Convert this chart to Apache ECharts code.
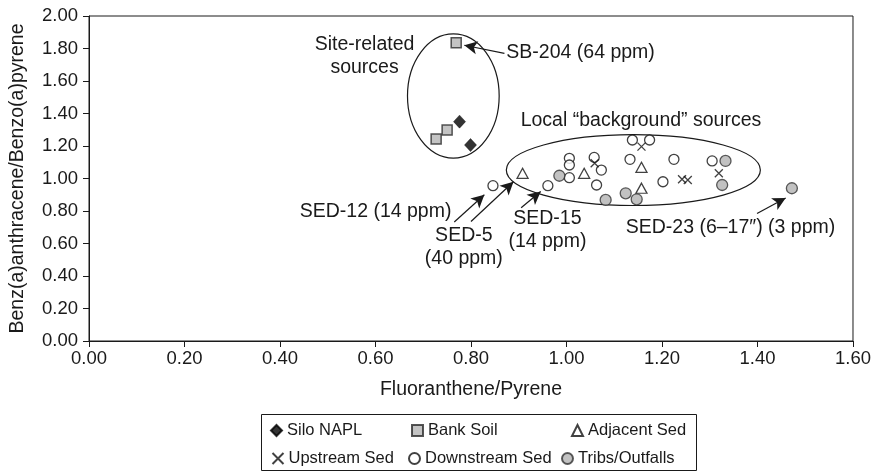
<!DOCTYPE html>
<html>
<head>
<meta charset="utf-8">
<script src="https://cdn.jsdelivr.net/npm/echarts@6/dist/echarts.min.js"></script>
<style>
  html, body { margin: 0; padding: 0; background: #fff; }
  #chart { width: 874px; height: 472px; }
</style>
</head>
<body>
<div id="chart"></div>
<script>
// Axis ranges and tick steps (ratio values)
const xRange = [0, 1.6];
const yRange = [0, 2.0];
const tickStep = 0.2;

// [Fluoranthene/Pyrene, Benz(a)anthracene/Benzo(a)pyrene]
const siloNapl = [[0.776, 1.350], [0.799, 1.206]];
const bankSoil = [[0.727, 1.243], [0.750, 1.298], [0.769, 1.836]];
const adjacentSed = [[0.908, 1.032], [1.037, 1.032], [1.157, 1.069], [1.157, 0.940]];
const upstreamSed = [[1.059, 1.094], [1.157, 1.196], [1.242, 0.995], [1.254, 0.991], [1.319, 1.032]];
const downstreamSed = [
  [0.846, 0.956], [0.961, 0.956], [1.006, 1.005], [1.006, 1.124], [1.006, 1.083],
  [1.058, 1.130], [1.073, 1.052], [1.063, 0.960], [1.138, 1.237], [1.174, 1.237],
  [1.133, 1.118], [1.225, 1.118], [1.202, 0.980], [1.305, 1.108]
];
const tribsOutfalls = [[0.985, 1.017], [1.082, 0.868], [1.124, 0.909], [1.147, 0.872], [1.333, 1.108], [1.326, 0.960], [1.472, 0.940]];

// Callout arrows: [from, to] in data units
const calloutArrows = [
  [[0.870, 1.770], [0.786, 1.820]],   // SB-204
  [[0.765, 0.732], [0.828, 0.900]],   // SED-12
  [[0.800, 0.735], [0.889, 0.980]],   // SED-5
  [[0.905, 0.820], [0.946, 0.920]],   // SED-15
  [[1.399, 0.785], [1.459, 0.880]]    // SED-23
];

const FONT = '"Liberation Sans", Arial, Helvetica, sans-serif';
const INK = '#1a1a1a';

const chart = echarts.init(document.getElementById('chart'), null, { renderer: 'canvas' });

// Legend entries laid out in two rows inside one frame
const legendItems = [
  { name: 'Silo NAPL', left: 270, top: 422 },
  { name: 'Bank Soil', left: 411, top: 422 },
  { name: 'Adjacent Sed', left: 571, top: 422 },
  { name: 'Upstream Sed', left: 270, top: 450 },
  { name: 'Downstream Sed', left: 408, top: 450 },
  { name: 'Tribs/Outfalls', left: 561, top: 450 }
];

const option = {
  backgroundColor: '#fff',
  animation: false,
  textStyle: { fontFamily: FONT },
  grid: {
    left: 86, right: 21, top: 16, bottom: 131,
    show: true, borderColor: INK, borderWidth: 1, backgroundColor: 'transparent'
  },
  xAxis: {
    type: 'value', min: xRange[0], max: xRange[1], interval: tickStep,
    name: 'Fluoranthene/Pyrene', nameLocation: 'middle', nameGap: 39,
    nameTextStyle: { fontSize: 19.5, color: INK, fontFamily: FONT },
    axisLine: { show: true, lineStyle: { color: INK, width: 1 } },
    axisTick: { show: true, inside: false, length: 6, lineStyle: { color: INK } },
    axisLabel: { fontSize: 18.5, color: INK, margin: 8, fontFamily: FONT, formatter: v => v.toFixed(2) },
    splitLine: { show: false }
  },
  yAxis: {
    type: 'value', min: yRange[0], max: yRange[1], interval: tickStep,
    name: 'Benz(a)anthracene/Benzo(a)pyrene', nameLocation: 'middle', nameGap: 61,
    nameTextStyle: { fontSize: 19.5, color: INK, fontFamily: FONT },
    axisLine: { show: true, lineStyle: { color: INK, width: 1 } },
    axisTick: { show: true, inside: false, length: 6, lineStyle: { color: INK } },
    axisLabel: { fontSize: 18.5, color: INK, margin: 11, fontFamily: FONT, formatter: v => v.toFixed(2) },
    splitLine: { show: false }
  },
  legend: legendItems.map(it => ({
    data: [it.name], left: it.left, top: it.top, padding: 0,
    itemWidth: 11, itemHeight: 11, itemGap: 0, selectedMode: false,
    textStyle: { fontSize: 16.5, color: INK, fontFamily: FONT }
  })),
  series: [
    {
      name: 'Silo NAPL', type: 'scatter', data: siloNapl, symbol: 'diamond', symbolSize: [12, 13],
      itemStyle: { color: '#000', borderColor: '#000', borderWidth: 0.5 }, z: 5
    },
    {
      name: 'Bank Soil', type: 'scatter', data: bankSoil, symbol: 'rect', symbolSize: 10,
      itemStyle: { color: '#b5b5b5', borderColor: '#2a2a2a', borderWidth: 1.5 }, z: 5
    },
    {
      name: 'Adjacent Sed', type: 'scatter', data: adjacentSed, symbol: 'triangle', symbolSize: [11, 10],
      itemStyle: { color: '#fff', borderColor: '#111', borderWidth: 1.3 }, z: 5
    },
    {
      name: 'Upstream Sed', type: 'scatter', data: upstreamSed,
      symbol: 'path://M0,0L10,10M10,0L0,10', symbolSize: 8,
      itemStyle: { color: 'none', borderColor: '#111', borderWidth: 1.3 }, z: 5
    },
    {
      name: 'Downstream Sed', type: 'scatter', data: downstreamSed, symbol: 'circle', symbolSize: 10,
      itemStyle: { color: '#fff', borderColor: '#111', borderWidth: 1.3 }, z: 4
    },
    {
      name: 'Tribs/Outfalls', type: 'scatter', data: tribsOutfalls, symbol: 'circle', symbolSize: 11,
      itemStyle: { color: '#b3b3b3', borderColor: '#333', borderWidth: 1.3 }, z: 4
    },
    {
      name: 'callouts', type: 'scatter', data: [], silent: true,
      markLine: {
        silent: true, animation: false,
        symbol: ['none', 'arrow'], symbolSize: [10, 13],
        lineStyle: { color: INK, width: 1.2, type: 'solid' },
        itemStyle: { color: INK },
        label: { show: false },
        emphasis: { disabled: true },
        data: calloutArrows.map(a => [{ coord: a[0] }, { coord: a[1] }])
      }
    }
  ]
};

chart.setOption(option);

// Annotation ellipses and captions, placed through the axis scales
const toPx = p => chart.convertToPixel({ gridIndex: 0 }, p);
function ellipseEl(cx, cy, rx, ry) {
  const c = toPx([cx, cy]);
  const e = toPx([cx + rx, cy + ry]);
  return {
    type: 'ellipse', silent: true, z: 3,
    shape: { cx: c[0], cy: c[1], rx: Math.abs(e[0] - c[0]), ry: Math.abs(c[1] - e[1]) },
    style: { fill: 'none', stroke: INK, lineWidth: 1.2 }
  };
}
function textEl(str, at, align) {
  const p = toPx(at);
  return {
    type: 'text', silent: true, z: 6, x: p[0], y: p[1],
    style: {
      text: str, fill: INK, font: '19.5px ' + FONT,
      align: align, verticalAlign: 'middle', lineHeight: 23
    }
  };
}

chart.setOption({
  graphic: [
    ellipseEl(0.763, 1.508, 0.096, 0.382),
    ellipseEl(1.140, 1.052, 0.266, 0.218),
    textEl('Site-related\nsources', [0.577, 1.751], 'center'),
    textEl('SB-204 (64 ppm)', [0.874, 1.772], 'left'),
    textEl('Local \u201cbackground\u201d sources', [1.156, 1.354], 'center'),
    textEl('SED-12 (14 ppm)', [0.759, 0.796], 'right'),
    textEl('SED-5\n(40 ppm)', [0.785, 0.580], 'center'),
    textEl('SED-15\n(14 ppm)', [0.960, 0.680], 'center'),
    textEl('SED-23 (6\u201317\u2033) (3 ppm)', [1.124, 0.695], 'left'),
    {
      type: 'rect', silent: true, z: 0,
      shape: { x: 261.5, y: 414.5, width: 435, height: 56 },
      style: { fill: 'none', stroke: INK, lineWidth: 1 }
    }
  ]
});
</script>
</body>
</html>
